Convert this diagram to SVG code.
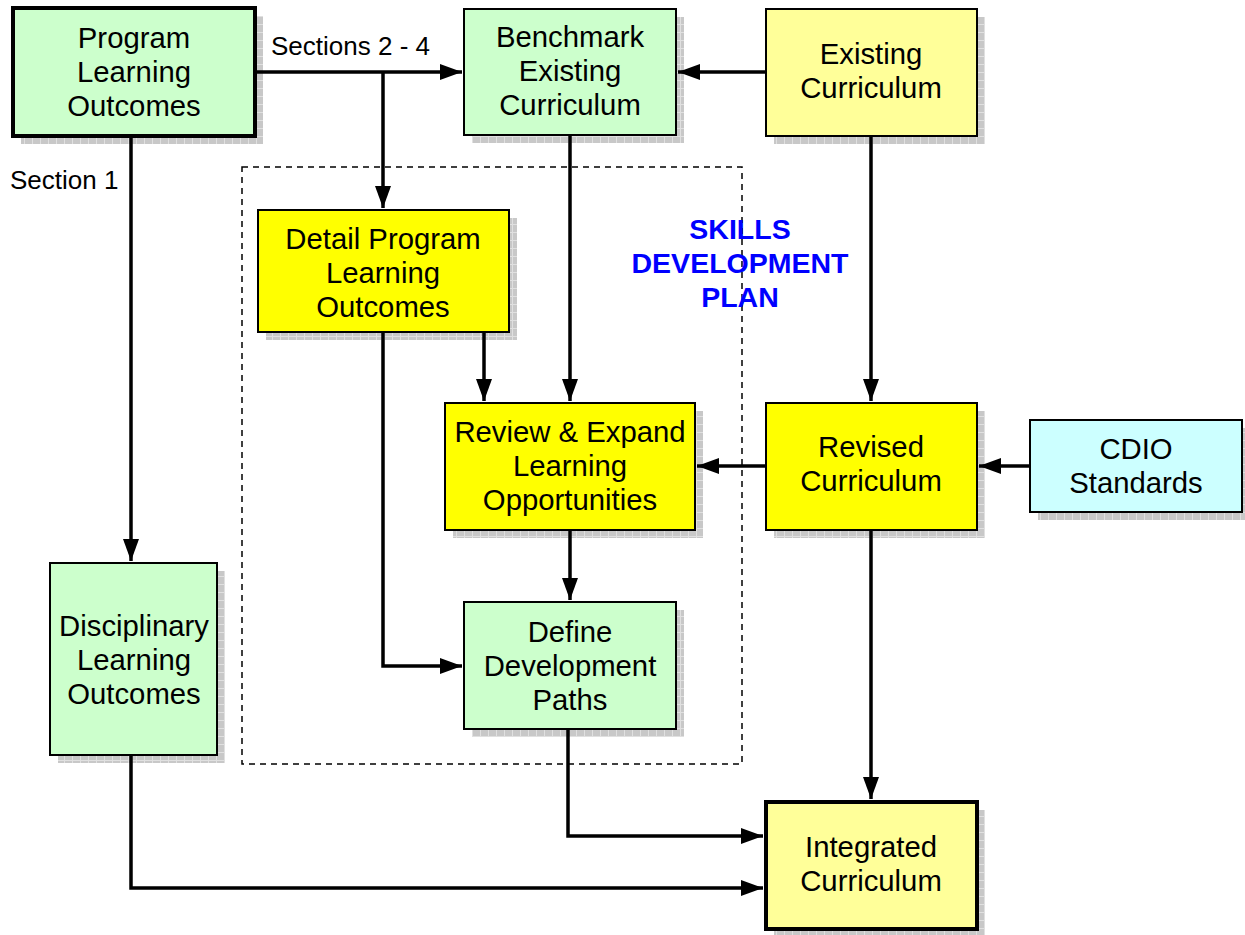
<svg xmlns="http://www.w3.org/2000/svg" width="1245" height="935" viewBox="0 0 1245 935">
<style>
.box{stroke:#000;stroke-width:2}
.thick{stroke-width:4}
.g{fill:#ccffcc}.ly{fill:#ffff99}.y{fill:#ffff00}.c{fill:#ccffff}
.sh{fill:url(#shp)}
text{font-family:"Liberation Sans",Arial,sans-serif;font-size:29.3px;fill:#000;text-anchor:middle}
.lbl{font-size:26px;text-anchor:start}
.sdp{font-weight:bold;fill:#0000ff;font-size:28.5px}
.con{fill:none;stroke:#000;stroke-width:3.5}
</style>
<defs>
<pattern id="shp" width="8" height="8" patternUnits="userSpaceOnUse">
<rect width="8" height="8" fill="#c8c8c8"/>
<path d="M0 0.5H8M0.5 0V8" stroke="#e0e0e0" stroke-width="1"/>
</pattern>
<marker id="ah" markerWidth="22" markerHeight="16" refX="22" refY="8" orient="auto" markerUnits="userSpaceOnUse">
<path d="M0 0L22 8L0 16Z" fill="#000"/>
</marker>
</defs>
<rect x="242" y="167" width="500" height="597" fill="none" stroke="#000" stroke-width="1.5" stroke-dasharray="6,5"/>
<text class="lbl" x="271" y="55">Sections 2 - 4</text>
<text class="lbl" x="10" y="189">Section 1</text>
<g id="sdp"><text class="sdp" x="740" y="239">SKILLS</text><text class="sdp" x="740" y="273">DEVELOPMENT</text><text class="sdp" x="740" y="307">PLAN</text></g>
<g id="plo"><rect class="sh" x="21" y="16" width="242" height="128"/><rect class="box thick g" x="13" y="8" width="242" height="128"/>
<text x="134" y="48">Program</text><text x="134" y="82">Learning</text><text x="134" y="116">Outcomes</text></g>
<g id="benchmark"><rect class="sh" x="472" y="17" width="212" height="126"/><rect class="box g" x="464" y="9" width="212" height="126"/>
<text x="570" y="47">Benchmark</text><text x="570" y="81">Existing</text><text x="570" y="115">Curriculum</text></g>
<g id="existing"><rect class="sh" x="774" y="17" width="211" height="127"/><rect class="box ly" x="766" y="9" width="211" height="127"/>
<text x="871" y="64">Existing</text><text x="871" y="98">Curriculum</text></g>
<g id="detail"><rect class="sh" x="266" y="218" width="251" height="122"/><rect class="box y" x="258" y="210" width="251" height="122"/>
<text x="383" y="249">Detail Program</text><text x="383" y="283">Learning</text><text x="383" y="317">Outcomes</text></g>
<g id="review"><rect class="sh" x="453" y="411" width="250" height="127"/><rect class="box y" x="445" y="403" width="250" height="127"/>
<text x="570" y="442">Review &amp; Expand</text><text x="570" y="476">Learning</text><text x="570" y="510">Opportunities</text></g>
<g id="revised"><rect class="sh" x="774" y="411" width="211" height="127"/><rect class="box y" x="766" y="403" width="211" height="127"/>
<text x="871" y="457">Revised</text><text x="871" y="491">Curriculum</text></g>
<g id="cdio"><rect class="sh" x="1038" y="428" width="207" height="92"/><rect class="box c" x="1030" y="420" width="212" height="92"/>
<text x="1136" y="459">CDIO</text><text x="1136" y="493">Standards</text></g>
<g id="disciplinary"><rect class="sh" x="58" y="571" width="167" height="192"/><rect class="box g" x="50" y="563" width="167" height="192"/>
<text x="134" y="636">Disciplinary</text><text x="134" y="670">Learning</text><text x="134" y="704">Outcomes</text></g>
<g id="define"><rect class="sh" x="472" y="610" width="212" height="127"/><rect class="box g" x="464" y="602" width="212" height="127"/>
<text x="570" y="642">Define</text><text x="570" y="676">Development</text><text x="570" y="710">Paths</text></g>
<g id="integrated"><rect class="sh" x="774" y="810" width="211" height="125"/><rect class="box thick ly" x="766" y="802" width="211" height="127"/>
<text x="871" y="857">Integrated</text><text x="871" y="891">Curriculum</text></g>
<g id="connectors">
<path class="con" d="M257 72H462" marker-end="url(#ah)"/>
<path class="con" d="M383 72V208" marker-end="url(#ah)"/>
<path class="con" d="M131 138V561" marker-end="url(#ah)"/>
<path class="con" d="M765 72H678" marker-end="url(#ah)"/>
<path class="con" d="M570 136V401" marker-end="url(#ah)"/>
<path class="con" d="M871 137V401" marker-end="url(#ah)"/>
<path class="con" d="M484 333V401" marker-end="url(#ah)"/>
<path class="con" d="M383 333V666H462" marker-end="url(#ah)"/>
<path class="con" d="M765 466H697" marker-end="url(#ah)"/>
<path class="con" d="M1029 466H979" marker-end="url(#ah)"/>
<path class="con" d="M570 531V600" marker-end="url(#ah)"/>
<path class="con" d="M871 531V799" marker-end="url(#ah)"/>
<path class="con" d="M568 730V836H763" marker-end="url(#ah)"/>
<path class="con" d="M131 756V888H763" marker-end="url(#ah)"/>
</g>
</svg>
